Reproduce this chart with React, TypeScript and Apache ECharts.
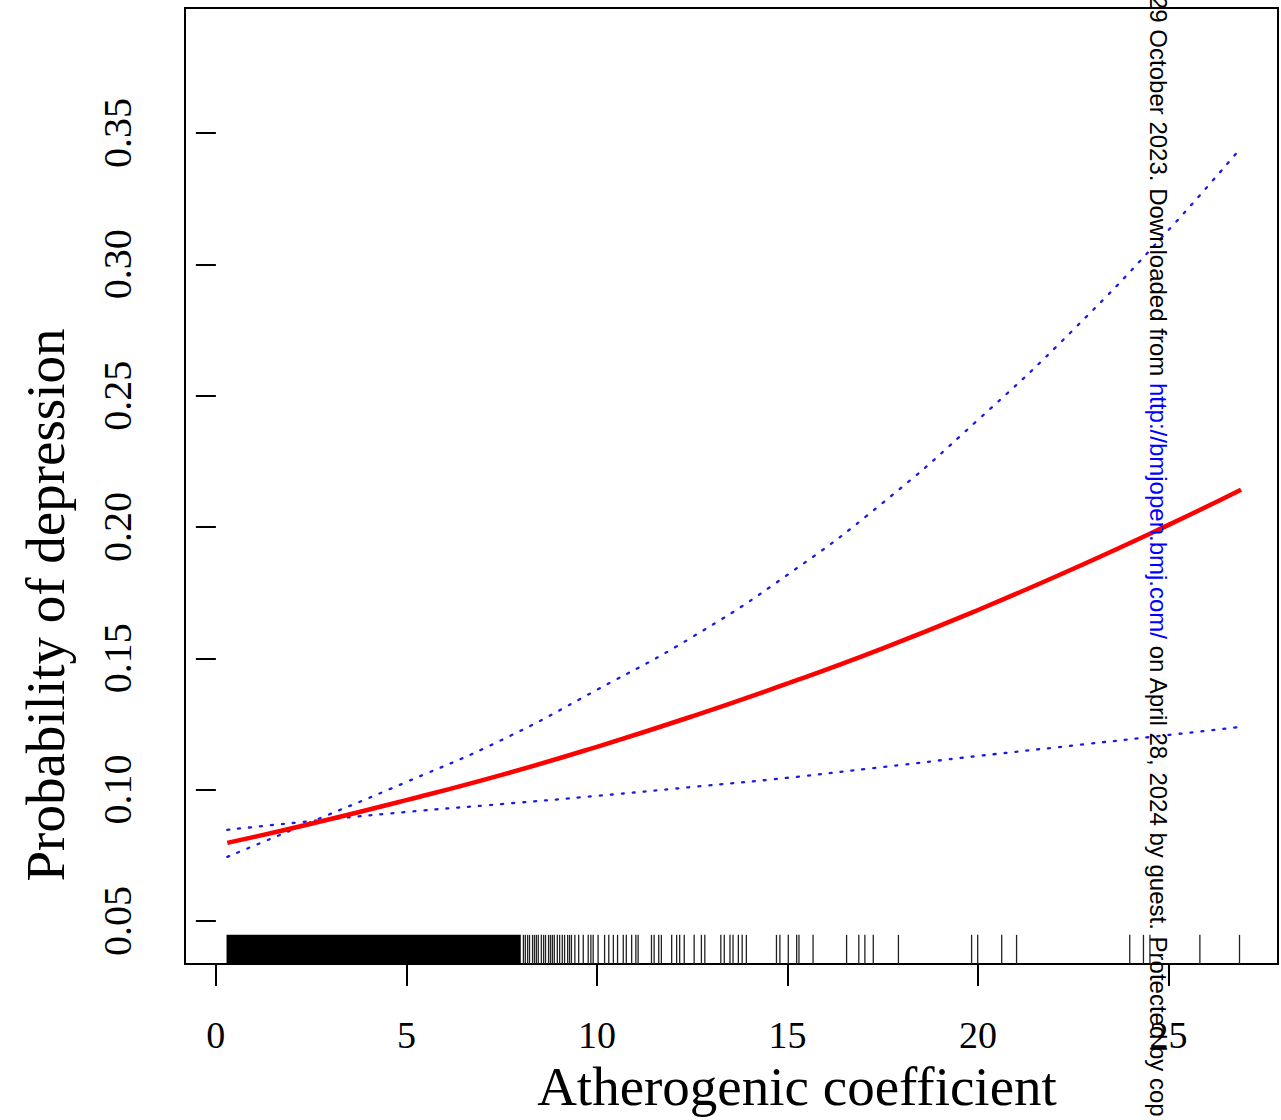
import React, { useEffect, useRef } from "react";
import * as echarts from "echarts";

const xTicks = [0, 5, 10, 15, 20, 25];
const yTicks = [0.05, 0.1, 0.15, 0.2, 0.25, 0.3, 0.35];
const yTickLabels = ["0.05", "0.10", "0.15", "0.20", "0.25", "0.30", "0.35"];

const curveX = [0.3, 2.5, 5, 7.5, 10, 12.5, 15, 17.5, 20, 22.5, 25, 26.9];
const fitValues = [0.0797, 0.087, 0.096, 0.1056, 0.1163, 0.1279, 0.1404, 0.1538, 0.1684, 0.1841, 0.2008, 0.2142];
const upperValues = [0.0744, 0.0877, 0.1029, 0.1189, 0.138, 0.1581, 0.1818, 0.2092, 0.2408, 0.2751, 0.3131, 0.3444];
const lowerValues = [0.0847, 0.088, 0.0915, 0.0945, 0.0976, 0.101, 0.1045, 0.1086, 0.1128, 0.1168, 0.1208, 0.1239];

// dense part of the rug (solid black band)
const rugDense = [0.28, 8.0];
// individual rug ticks
const rugValues = [
  8.07, 8.12, 8.18, 8.23, 8.31, 8.36, 8.41, 8.46, 8.54, 8.6, 8.65, 8.73, 8.78, 8.83, 8.88, 8.96,
  9.02, 9.09, 9.15, 9.23, 9.28, 9.33, 9.42, 9.52, 9.64, 9.77, 9.84, 9.9, 10.03, 10.2, 10.31, 10.43,
  10.54, 10.69, 10.77, 10.91, 11.02, 11.08, 11.43, 11.5, 11.62, 11.69, 11.96, 12.09, 12.17, 12.29,
  12.55, 12.74, 12.83, 13.25, 13.34, 13.49, 13.57, 13.71, 13.81, 13.92, 14.71, 14.8, 15.02, 15.24,
  15.3, 15.67, 16.55, 16.87, 17.03, 17.25, 17.91, 19.83, 19.99, 20.62, 21.01, 23.98, 24.34, 24.51,
  25.82, 26.86,
];

const X_MIN = -0.81;
const X_MAX = 27.87;
const Y_MIN = 0.0336;
const Y_MAX = 0.3976;
const RUG_TOP = 0.0447;

const SERIF = "'Liberation Serif', 'DejaVu Serif', serif";

export default function App() {
  const ref = useRef<HTMLDivElement>(null);

  useEffect(() => {
    if (!ref.current) return;
    const chart = echarts.init(ref.current, undefined, { renderer: "svg" });
    const pairs = (ys: number[]) => curveX.map((x, i) => [x, ys[i]]);

    chart.setOption({
      animation: false,
      backgroundColor: "#fff",
      grid: {
        left: 185,
        right: 3,
        top: 8,
        bottom: 156,
        show: true,
        borderColor: "#000",
        borderWidth: 2,
        backgroundColor: "transparent",
      },
      xAxis: {
        type: "value",
        min: X_MIN,
        max: X_MAX,
        axisLine: { show: false },
        splitLine: { show: false },
        axisTick: {
          show: true,
          customValues: xTicks,
          length: 22,
          inside: false,
          lineStyle: { color: "#000", width: 2 },
        },
        axisLabel: {
          show: true,
          customValues: xTicks,
          margin: 52,
          color: "#000",
          fontSize: 38,
          fontFamily: SERIF,
          formatter: (v: number) => String(v),
        },
      },
      yAxis: {
        type: "value",
        min: Y_MIN,
        max: Y_MAX,
        axisLine: { show: false },
        splitLine: { show: false },
        axisTick: {
          show: true,
          customValues: yTicks,
          length: 20,
          inside: false,
          lineStyle: { color: "#000", width: 2 },
        },
        axisLabel: {
          show: true,
          customValues: yTicks,
          rotate: 90,
          margin: 48,
          color: "#000",
          fontSize: 40,
          fontFamily: SERIF,
          formatter: (v: number) => {
            const i = yTicks.findIndex((t) => Math.abs(t - v) < 1e-6);
            return i >= 0 ? yTickLabels[i] : "";
          },
        },
      },
      series: [
        {
          type: "custom",
          name: "rugDense",
          silent: true,
          data: [rugDense],
          renderItem: (params: any, api: any) => {
            const a = api.coord([api.value(0), RUG_TOP]);
            const b = api.coord([api.value(1), Y_MIN]);
            return {
              type: "rect",
              shape: { x: a[0], y: a[1], width: b[0] - a[0], height: b[1] - a[1] },
              style: { fill: "#000" },
            };
          },
          z: 2,
        },
        {
          type: "custom",
          name: "rug",
          silent: true,
          data: rugValues.map((v) => [v]),
          renderItem: (params: any, api: any) => {
            const a = api.coord([api.value(0), RUG_TOP]);
            const b = api.coord([api.value(0), Y_MIN]);
            return {
              type: "line",
              shape: { x1: a[0], y1: a[1], x2: b[0], y2: b[1] },
              style: { stroke: "#222", lineWidth: 1.3 },
            };
          },
          z: 2,
        },
        {
          type: "line",
          name: "upper",
          data: pairs(upperValues),
          smooth: true,
          showSymbol: false,
          lineStyle: { color: "#1a1ae6", width: 2.3, type: [2, 9], cap: "round" },
          z: 3,
        },
        {
          type: "line",
          name: "lower",
          data: pairs(lowerValues),
          smooth: true,
          showSymbol: false,
          lineStyle: { color: "#1a1ae6", width: 2.3, type: [2, 9], cap: "round" },
          z: 3,
        },
        {
          type: "line",
          name: "fit",
          data: pairs(fitValues),
          smooth: true,
          showSymbol: false,
          lineStyle: { color: "#ff0000", width: 4.5 },
          z: 4,
        },
      ],
      graphic: [
        {
          type: "text",
          x: 797,
          y: 1086,
          style: {
            text: "Atherogenic coefficient",
            font: `55px ${SERIF}`,
            fill: "#000",
            textAlign: "center",
            textVerticalAlign: "middle",
          },
        },
        {
          type: "text",
          x: 45,
          y: 605,
          rotation: Math.PI / 2,
          style: {
            text: "Probability of depression",
            font: `55px ${SERIF}`,
            fill: "#000",
            textAlign: "center",
            textVerticalAlign: "middle",
          },
        },
        {
          type: "text",
          x: 1158,
          y: -4,
          rotation: -Math.PI / 2,
          z: 100,
          style: {
            text: "{a|29 October 2023. Downloaded from }{b|http://bmjopen.bmj.com/}{a| on April 28, 2024 by guest. Protected by cop}",
            textAlign: "left",
            textVerticalAlign: "middle",
            rich: {
              a: { fontSize: 24, fontFamily: "'Liberation Sans', Arial, sans-serif", fill: "#000", color: "#000" },
              b: { fontSize: 24, fontFamily: "'Liberation Sans', Arial, sans-serif", fill: "#0000ff", color: "#0000ff" },
            },
          },
        },
      ],
    });
    return () => chart.dispose();
  }, []);

  return (
    <div
      ref={ref}
      style={{ position: "absolute", left: 0, top: 0, width: 1281, height: 1120 }}
    />
  );
}
